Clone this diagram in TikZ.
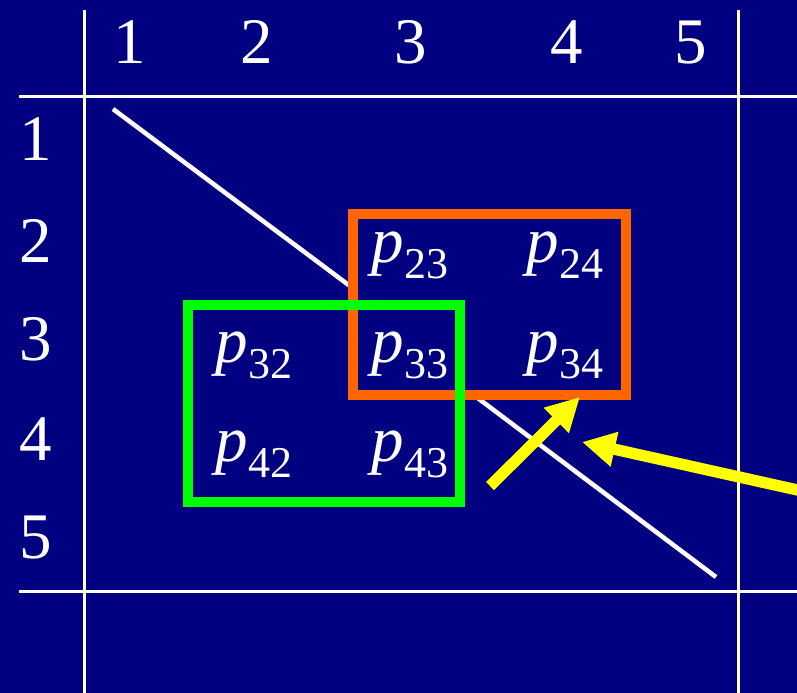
\documentclass[tikz,border=0pt]{standalone}
\usepackage{fontspec}
\newfontfamily\timesfam{Liberation Serif}
\usetikzlibrary{arrows.meta}
\definecolor{navybg}{RGB}{0,0,128}
\definecolor{boxorange}{RGB}{255,102,0}
\definecolor{boxgreen}{RGB}{0,255,0}
\definecolor{arrowyellow}{RGB}{255,255,0}
\newcommand{\pent}[1]{{\itshape p}\raisebox{-12pt}{\fontsize{33}{33}\selectfont #1}}
\begin{document}
\begin{tikzpicture}[x=0.75pt,y=-0.75pt,
  lbl/.style={text=white,font=\timesfam\fontsize{48.75}{50}\selectfont,inner sep=0pt,anchor=base},
  gridline/.style={draw=white,line width=2.25pt},
  diagline/.style={draw=white,line width=3.4pt},
  orangebox/.style={draw=boxorange,line width=7.5pt},
  greenbox/.style={draw=boxgreen,line width=7pt},
  yarrow/.style={draw=arrowyellow,line width=8.5pt,-{Triangle[length=25pt,width=25pt]}}]
\fill[navybg] (0,0) rectangle (797,693);

% grid lines
\coordinate (vl1t) at (84,10);  \coordinate (vl1b) at (84,693);
\coordinate (vl2t) at (738,10); \coordinate (vl2b) at (738,693);
\coordinate (hl1l) at (19,96);  \coordinate (hl1r) at (797,96);
\coordinate (hl2l) at (19,591); \coordinate (hl2r) at (797,591);
\draw[gridline] (vl1t) -- (vl1b);
\draw[gridline] (vl2t) -- (vl2b);
\draw[gridline] (hl1l) -- (hl1r);
\draw[gridline] (hl2l) -- (hl2r);

% column labels
\node[lbl] (c1) at (130,63) {1};
\node[lbl] (c2) at (257,63) {2};
\node[lbl] (c3) at (411,63) {3};
\node[lbl] (c4) at (567,63) {4};
\node[lbl] (c5) at (691,63) {5};

% row labels
\node[lbl] (r1) at (36,160) {1};
\node[lbl] (r2) at (36,262) {2};
\node[lbl] (r3) at (36,360) {3};
\node[lbl] (r4) at (36,460) {4};
\node[lbl] (r5) at (36,558) {5};

% diagonal
\coordinate (d1s) at (113,109); \coordinate (d1e) at (354,289);
\coordinate (d2s) at (475,396); \coordinate (d2e) at (716,577);
\draw[diagline] (d1s) -- (d1e);
\draw[diagline] (d2s) -- (d2e);

% boxes
\coordinate (ob1) at (353,214); \coordinate (ob2) at (626,395);
\coordinate (gb1) at (188,305); \coordinate (gb2) at (460,502);
\draw[orangebox] (ob1) rectangle (ob2);
\draw[greenbox] (gb1) rectangle (gb2);

% entries
\node[lbl] (p23) at (410,262) {\pent{23}};
\node[lbl] (p24) at (565,262) {\pent{24}};
\node[lbl] (p32) at (254,362) {\pent{32}};
\node[lbl] (p33) at (410,362) {\pent{33}};
\node[lbl] (p34) at (565,362) {\pent{34}};
\node[lbl] (p42) at (254,461) {\pent{42}};
\node[lbl] (p43) at (410,461) {\pent{43}};

% arrows
\coordinate (a1s) at (490,486); \coordinate (a1e) at (580,397);
\coordinate (a2s) at (820,495); \coordinate (a2e) at (582,442);
\draw[yarrow] (a1s) -- (a1e);
\draw[yarrow] (a2s) -- (a2e);

\pgfresetboundingbox
\useasboundingbox (0,0) rectangle (797,693);
\end{tikzpicture}
\end{document}
